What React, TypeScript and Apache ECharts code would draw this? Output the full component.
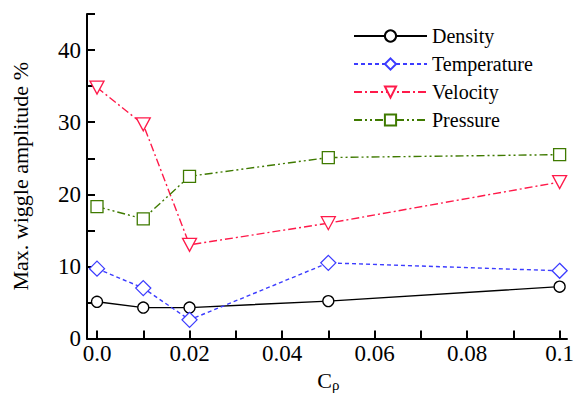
import React, { useEffect, useRef } from "react";
import * as echarts from "echarts";

const xValues = [0, 0.01, 0.02, 0.05, 0.1];
const density = [5.1, 4.3, 4.3, 5.2, 7.2];
const temperature = [9.7, 7.0, 2.6, 10.5, 9.4];
const velocity = [34.8, 29.7, 13.0, 16.0, 21.7];
const pressure = [18.3, 16.6, 22.5, 25.1, 25.5];

const xLabelValues = [0, 0.02, 0.04, 0.06, 0.08, 0.1];
const xLabelTexts = ["0.0", "0.02", "0.04", "0.06", "0.08", "0.1"];
const yLabelValues = [0, 10, 20, 30, 40];

const FONT = "Liberation Serif";
const DOWN_TRIANGLE = "path://M0,0L20,0L10,18Z";

function pairs(ys: number[]) {
  return xValues.map((x, i) => [x, ys[i]]);
}

export default function App() {
  const ref = useRef<HTMLDivElement>(null);
  useEffect(() => {
    if (!ref.current) return;
    const chart = echarts.init(ref.current, null, { renderer: "svg" });
    const tick = { show: true, inside: true, length: 8, lineStyle: { width: 2, color: "#000" } };
    const mk = (name: string, data: number[], color: string, symbol: string, size: any, dash: any) => ({
      name,
      type: "line",
      data: pairs(data),
      symbol,
      symbolSize: size,
      lineStyle: { color, width: 1.4, type: dash },
      itemStyle: { color: "#fff", borderColor: color, borderWidth: 1.3 },
    });
    chart.setOption({
      animation: false,
      textStyle: { fontFamily: FONT },
      grid: [
        { left: 97, right: 12, top: 14, bottom: 58 },
        { left: 87, right: 10, top: 14, bottom: 58 },
      ],
      legend: {
        orient: "vertical",
        left: 348,
        top: 21,
        itemWidth: 73,
        itemHeight: 14,
        itemGap: 8,
        textStyle: { fontFamily: FONT, fontSize: 20, color: "#000" },
        data: ["Density", "Temperature", "Velocity", "Pressure"],
      },
      xAxis: [
        {
          type: "value",
          min: 0,
          max: 0.1,
          interval: 0.01,
          name: "C{s|ρ}",
          nameLocation: "middle",
          nameGap: 30,
          nameTextStyle: {
            fontFamily: FONT,
            fontSize: 22,
            color: "#000",
            rich: { s: { fontFamily: FONT, fontSize: 15, verticalAlign: "bottom", padding: [8, 0, 0, 0] } },
          },
          axisLine: { show: true, onZero: false, lineStyle: { color: "#000", width: 2 } },
          axisTick: tick,
          axisLabel: {
            fontFamily: FONT,
            fontSize: 23,
            color: "#000",
            margin: 3,
            formatter: (v: number) => {
              const idx = xLabelValues.findIndex((lv) => Math.abs(lv - v) < 1e-9);
              return idx >= 0 ? xLabelTexts[idx] : "";
            },
          },
          splitLine: { show: false },
        },
        {
          type: "value",
          gridIndex: 1,
          min: 0,
          max: 1,
          axisLine: { show: true, onZero: false, lineStyle: { color: "#000", width: 2 } },
          axisTick: { show: false },
          axisLabel: { show: false },
          splitLine: { show: false },
        },
      ],
      yAxis: [
        {
          type: "value",
          min: 0,
          max: 45,
          interval: 5,
          offset: 10,
          name: "Max. wiggle amplitude %",
          nameLocation: "middle",
          nameGap: 56,
          nameTextStyle: { fontFamily: FONT, fontSize: 22, color: "#000" },
          axisLine: { show: true, onZero: false, lineStyle: { color: "#000", width: 2 } },
          axisTick: tick,
          axisLabel: {
            fontFamily: FONT,
            fontSize: 23,
            color: "#000",
            margin: 6,
            formatter: (v: number) => (yLabelValues.includes(v) ? String(v) : ""),
          },
          splitLine: { show: false },
        },
        {
          type: "value",
          gridIndex: 1,
          min: 0,
          max: 1,
          show: false,
        },
      ],
      series: [
        mk("Density", density, "#000000", "circle", 11, "solid"),
        mk("Temperature", temperature, "#3c3cff", "diamond", 15, [4, 3]),
        mk("Velocity", velocity, "#ff1a4a", DOWN_TRIANGLE, [14, 13], [8, 3, 2, 3]),
        mk("Pressure", pressure, "#3f7a00", "rect", 12, [8, 3, 2, 3, 2, 3]),
      ],
    });
    return () => chart.dispose();
  }, []);
  return <div ref={ref} style={{ width: 577, height: 397, position: "absolute", left: 0, top: 0 }} />;
}
